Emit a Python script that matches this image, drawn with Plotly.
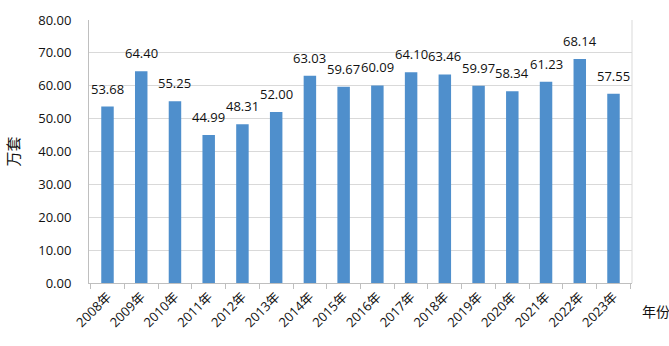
import plotly.graph_objects as go

years = ["2008年", "2009年", "2010年", "2011年", "2012年", "2013年", "2014年", "2015年",
         "2016年", "2017年", "2018年", "2019年", "2020年", "2021年", "2022年", "2023年"]
values = [53.68, 64.40, 55.25, 44.99, 48.31, 52.00, 63.03, 59.67,
          60.09, 64.10, 63.46, 59.97, 58.34, 61.23, 68.14, 57.55]
y_ticks = [0, 10, 20, 30, 40, 50, 60, 70, 80]

font_family = "Open Sans, Noto Sans CJK SC, sans-serif"

fig = go.Figure(go.Bar(
    x=years, y=values,
    marker=dict(color="#4F8FCC", line=dict(width=0)),
    width=0.37,
))

label_annotations = [
    dict(x=yr, y=v, xref="x", yref="y", text=f"{v:.2f}", showarrow=False,
         xanchor="center", yanchor="bottom", yshift=7,
         font=dict(size=13, color="#111111", family=font_family))
    for yr, v in zip(years, values)
]

fig.update_layout(
    width=669, height=346,
    margin=dict(l=89, r=37, t=11, b=63),
    paper_bgcolor="white", plot_bgcolor="white",
    font=dict(family=font_family, size=12, color="#111111"),
    showlegend=False,
    xaxis=dict(
        tickangle=-45, ticks="outside", tickson="boundaries", ticklen=5,
        tickcolor="#BFBFBF", showline=True, linecolor="#BFBFBF", linewidth=1,
        showgrid=False, tickfont=dict(size=13), mirror=False,
    ),
    yaxis=dict(
        range=[0, 80], tickvals=y_ticks, ticktext=[f"{v:.2f}" for v in y_ticks],
        showgrid=True, gridcolor="#D9D9D9", gridwidth=1,
        showline=True, linecolor="#BFBFBF", linewidth=1,
        zeroline=False, ticks="", ticklabelstandoff=14,
        tickfont=dict(size=13),
        title=dict(text="万套", font=dict(size=15), standoff=14),
    ),
    annotations=label_annotations + [dict(
        text="年份", xref="paper", yref="paper", x=1.015, y=-0.11,
        xanchor="left", yanchor="middle", showarrow=False, font=dict(size=14),
    )],
    shapes=[dict(type="line", xref="paper", yref="paper", x0=1, x1=1, y0=0, y1=1,
                 line=dict(color="#D9D9D9", width=1))],
)

fig.write_html("out.html")
